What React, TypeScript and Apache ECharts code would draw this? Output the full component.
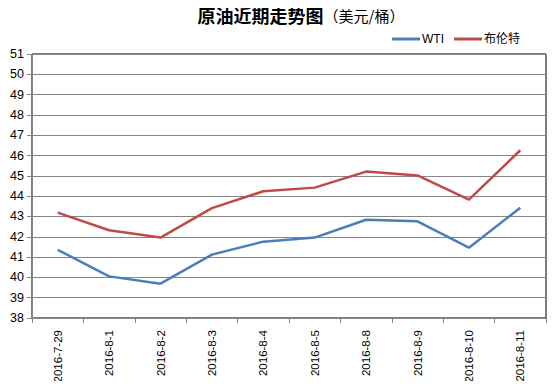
import React, { useEffect, useRef } from "react";
import * as echarts from "echarts";

const categories = [
  "2016-7-29", "2016-8-1", "2016-8-2", "2016-8-3", "2016-8-4",
  "2016-8-5", "2016-8-8", "2016-8-9", "2016-8-10", "2016-8-11",
];
const wti = [41.36, 40.05, 39.69, 41.12, 41.76, 41.96, 42.84, 42.76, 41.46, 43.43];
const brent = [43.19, 42.32, 41.96, 43.41, 44.24, 44.42, 45.21, 45.02, 43.83, 46.26];

const FONT = "'Liberation Sans', Arial, 'Noto Sans CJK SC', sans-serif";
const CJK = "'Noto Sans CJK SC', sans-serif";

export default function App() {
  const ref = useRef<HTMLDivElement>(null);
  useEffect(() => {
    if (!ref.current) return;
    const chart = echarts.init(ref.current, null, { renderer: "svg" });
    chart.setOption({
      animation: false,
      backgroundColor: "#fff",
      title: {
        text: "{b|原油近期走势图}{n|（美元/桶）}",
        left: 296,
        textAlign: "center",
        top: 1,
        textStyle: {
          rich: {
            b: { fontSize: 18, fontWeight: "bold", color: "#000", fontFamily: CJK },
            n: { fontSize: 15, fontWeight: "normal", color: "#000", fontFamily: CJK },
          },
        },
      },
      legend: {
        right: 32,
        top: 28,
        itemWidth: 28,
        itemHeight: 3,
        itemGap: 10,
        icon: "rect",
        textStyle: { fontSize: 12, color: "#000", fontFamily: FONT, padding: [0, 0, 0, -3] },
        data: ["WTI", "布伦特"],
      },
      grid: {
        left: 32,
        right: 11,
        top: 54,
        bottom: 71,
        show: true,
        borderColor: "#000",
        borderWidth: 1,
        backgroundColor: "transparent",
      },
      xAxis: {
        type: "category",
        data: categories,
        boundaryGap: true,
        axisLine: { lineStyle: { color: "#868686" } },
        axisTick: { show: true, length: 5, lineStyle: { color: "#868686" } },
        axisLabel: { rotate: 90, fontSize: 11.5, color: "#000", fontFamily: FONT, margin: 12 },
      },
      yAxis: {
        type: "value",
        min: 38,
        max: 51,
        interval: 1,
        axisLine: { show: true, lineStyle: { color: "#868686" } },
        axisTick: { show: true, length: 5, lineStyle: { color: "#868686" } },
        splitLine: { lineStyle: { color: "#868686" } },
        axisLabel: { fontSize: 12.5, color: "#000", fontFamily: FONT, margin: 8 },
      },
      series: [
        {
          name: "WTI",
          type: "line",
          data: wti,
          symbol: "none",
          lineStyle: { width: 2.5, color: "#4a7ebb" },
          itemStyle: { color: "#4a7ebb" },
        },
        {
          name: "布伦特",
          type: "line",
          data: brent,
          symbol: "none",
          lineStyle: { width: 2.5, color: "#be4b48" },
          itemStyle: { color: "#be4b48" },
        },
      ],
    });
    return () => chart.dispose();
  }, []);
  return <div ref={ref} style={{ width: 557, height: 389, margin: -8 }} />;
}
